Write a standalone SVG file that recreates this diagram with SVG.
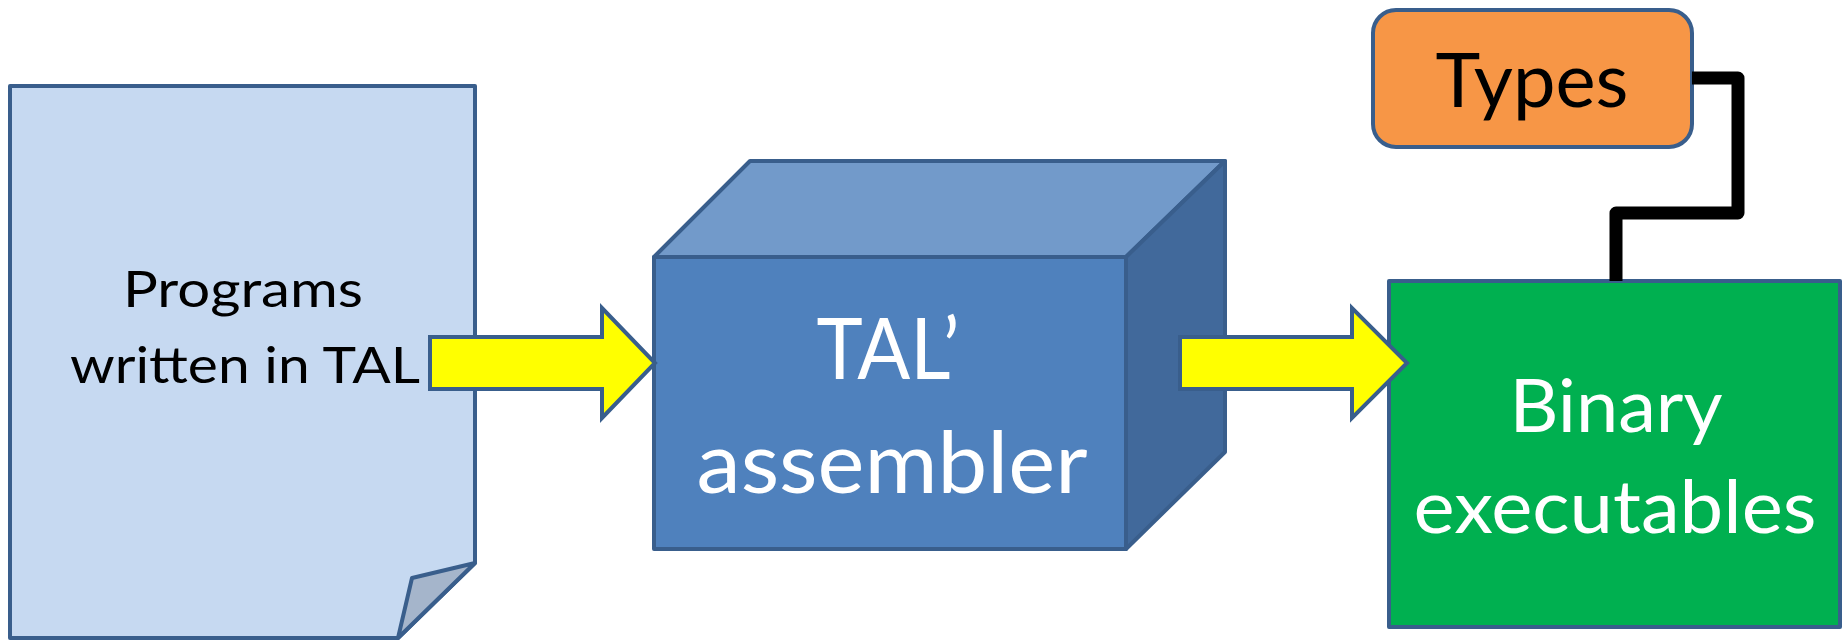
<svg xmlns="http://www.w3.org/2000/svg" width="1843" height="641" viewBox="0 0 1843 641">
<style>
.edge{stroke:#395e8c;stroke-width:4;stroke-linejoin:round}
.t{font-family:Lato,"Open Sans","Liberation Sans",sans-serif;text-anchor:middle}
.arrow{fill:#ffff00;stroke:#395e8c;stroke-width:4;stroke-linejoin:miter}
</style>
<rect width="1843" height="641" fill="#ffffff"/>
<g id="programs">
<path class="edge" d="M10,86 H475 V563 L398,638 H10 Z" fill="#c6d9f1"/>
<path class="edge" d="M475,563 L412,578 L398,638 Z" fill="#a5b5cb"/>
<text class="t" x="243" y="307" font-size="50" fill="#000" textLength="240" lengthAdjust="spacingAndGlyphs">Programs</text>
<text class="t" x="245" y="383" font-size="50" fill="#000" textLength="350" lengthAdjust="spacingAndGlyphs">written in TAL</text>
</g>
<g id="assembler">
<path class="edge" d="M654,257 L750,161 H1225 L1126,257 Z" fill="#729aca"/>
<path class="edge" d="M1126,257 L1225,161 V452 L1126,549 Z" fill="#41699b"/>
<rect class="edge" x="654" y="257" width="472" height="292" fill="#4f81bd"/>
<text class="t" x="888" y="379" font-size="85" fill="#fff" textLength="143" lengthAdjust="spacingAndGlyphs">TAL’</text>
<text class="t" x="892" y="493" font-size="85" fill="#fff" textLength="391" lengthAdjust="spacingAndGlyphs">assembler</text>
</g>
<g id="binary">
<rect class="edge" x="1389" y="281" width="451" height="346" fill="#00b050"/>
<text class="t" x="1616" y="432" font-size="74" fill="#fff" textLength="213" lengthAdjust="spacingAndGlyphs">Binary</text>
<text class="t" x="1615" y="533" font-size="74" fill="#fff" textLength="403" lengthAdjust="spacingAndGlyphs">executables</text>
</g>
<g id="types">
<rect class="edge" x="1373" y="10" width="319" height="137" rx="23" ry="23" fill="#f79646"/>
<text class="t" x="1532" y="107" font-size="75" fill="#000" textLength="193" lengthAdjust="spacingAndGlyphs">Types</text>
</g>
<g id="connectors">
<path class="arrow" d="M430,337 H602 V308 L655,363 L602,418 V389 H430 Z"/>
<path class="arrow" d="M1180,337 H1352 V308 L1407,363 L1352,418 V389 H1180 Z"/>
<path d="M1692,78 H1738 V213 H1616 V281" fill="none" stroke="#000" stroke-width="13" stroke-linejoin="round"/>
</g>
</svg>
